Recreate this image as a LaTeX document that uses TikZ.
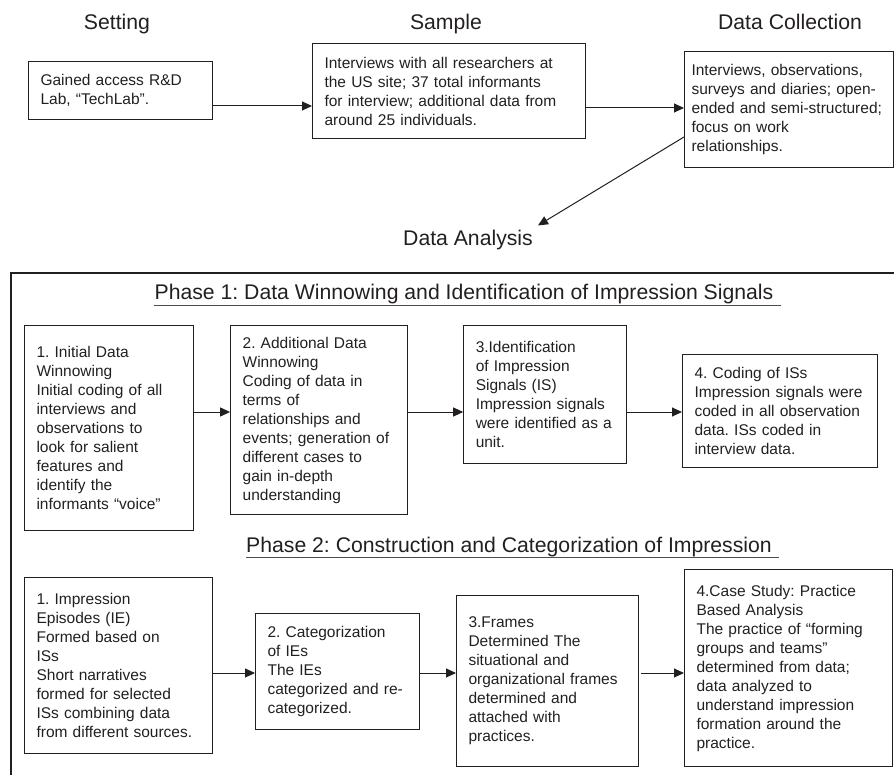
\documentclass[tikz,border=0pt]{standalone}
\usepackage{fontspec}
\setmainfont{Liberation Sans}
\usetikzlibrary{arrows.meta, positioning}
\definecolor{mydark}{RGB}{35,31,32}
\newcommand{\bxfont}{\fontsize{15.5}{19}\selectfont}
\newcommand{\hdfont}{\fontsize{21.2}{25}\selectfont}
\frenchspacing
\tikzset{
  stepbox/.style={rectangle, draw=mydark, text=mydark, line width=1.1pt,
    align=left, anchor=north west, inner xsep=12pt, inner ysep=6pt, font=\bxfont},
  heading/.style={font=\hdfont, text=mydark, inner sep=0pt, anchor=base},
  arrow/.style={-{Triangle[length=10pt,width=9pt]}, line width=1pt, color=mydark},
  uline/.style={line width=0.8pt, color=mydark!80},
  frame/.style={line width=1.1pt, color=mydark}
}

\begin{document}
\begin{tikzpicture}[x=1pt, y=-1pt]
  \useasboundingbox (0,0) rectangle (894,775);

  % study design
  \node[heading] (hset) at (117,30) {Setting};
  \node[heading] (hsam) at (446,30) {Sample};
  \node[heading] (hcol) at (790,30) {Data Collection};
  \node[stepbox, text width=160pt, minimum height=58pt] (setting) at (28,61)
    {Gained access R\&D\\Lab, “TechLab”.};
  \node[stepbox, text width=249pt, minimum height=95pt] (sample) at (312,43)
    {Interviews with all researchers at\\the US site; 37 total informants\\for interview; additional data from\\around 25 individuals.};
  \node[stepbox, text width=195pt, inner xsep=7pt, minimum height=116pt] (collect) at (684,51)
    {Interviews, observations,\\surveys and diaries; open-\\ended and semi-structured;\\focus on work\\relationships.};
  \node[heading, inner sep=5pt] (analysis) at (468,246) {Data Analysis};

  \draw[arrow] (setting.east |- 0,106) -- (sample.west |- 0,106);
  \draw[arrow] (sample.east |- 0,108) -- (collect.west |- 0,108);
  \draw[arrow] (collect.west |- 0,137) -- (analysis.north east);

  % analysis frame
  \draw[frame] (11,273) rectangle (910,790);

  % phase 1
  \node[heading] (ph1) at (464,300) {Phase 1: Data Winnowing and Identification of Impression Signals};
  \draw[uline] ([yshift=-5pt]ph1.base west) -- ([xshift=7pt,yshift=-5pt]ph1.base east);

  \node[stepbox, text width=145pt, minimum height=205pt] (initwin) at (24,325)
    {1. Initial Data\\Winnowing\\Initial coding of all\\interviews and\\observations to\\look for salient\\features and\\identify the\\informants “voice”};
  \node[stepbox, text width=153pt, minimum height=189pt, right=36pt of initwin.north east, anchor=north west] (addwin)
    {2. Additional Data\\Winnowing\\Coding of data in\\terms of\\relationships and\\events; generation of\\different cases to\\gain in-depth\\understanding};
  \node[stepbox, text width=139pt, minimum height=138pt, right=55pt of addwin.north east, anchor=north west] (ident)
    {3.Identification\\of Impression\\Signals (IS)\\Impression signals\\were identified as a\\unit.};
  \node[stepbox, text width=171pt, minimum height=113pt] (coding) at (682,354)
    {4. Coding of ISs\\Impression signals were\\coded in all observation\\data. ISs coded in\\interview data.};

  \draw[arrow] (initwin.east |- 0,412) -- (addwin.west |- 0,412);
  \draw[arrow] (addwin.east |- 0,412) -- (ident.west |- 0,412);
  \draw[arrow] (ident.east |- 0,412) -- (coding.west |- 0,412);

  % phase 2
  \node[heading] (ph2) at (509,552) {Phase 2: Construction and Categorization of Impression};
  \draw[uline] ([yshift=-5pt]ph2.base west) -- ([xshift=7pt,yshift=-5pt]ph2.base east);

  \node[stepbox, text width=164pt, minimum height=176pt] (episodes) at (24,577)
    {1. Impression\\Episodes (IE)\\Formed based on\\ISs\\Short narratives\\formed for selected\\ISs combining data\\from different sources.};
  \node[stepbox, text width=140pt, minimum height=116pt] (categ) at (255,613)
    {2. Categorization\\of IEs\\The IEs\\categorized and re-\\categorized.};
  \node[stepbox, text width=158pt, minimum height=171pt] (frames) at (456,595)
    {3.Frames\\Determined The\\situational and\\organizational frames\\determined and\\attached with\\practices.};
  \node[stepbox, text width=184pt, minimum height=197pt] (casestudy) at (684,569)
    {4.Case Study: Practice\\Based Analysis\\The practice of “forming\\groups and teams”\\determined from data;\\data analyzed to\\understand impression\\formation around the\\practice.};

  \draw[arrow] (episodes.east |- 0,673) -- (categ.west |- 0,673);
  \draw[arrow] (categ.east |- 0,673) -- (frames.west |- 0,673);
  \draw[arrow] ([xshift=2pt]frames.east |- 0,673) -- (casestudy.west |- 0,673);
\end{tikzpicture}
\end{document}
